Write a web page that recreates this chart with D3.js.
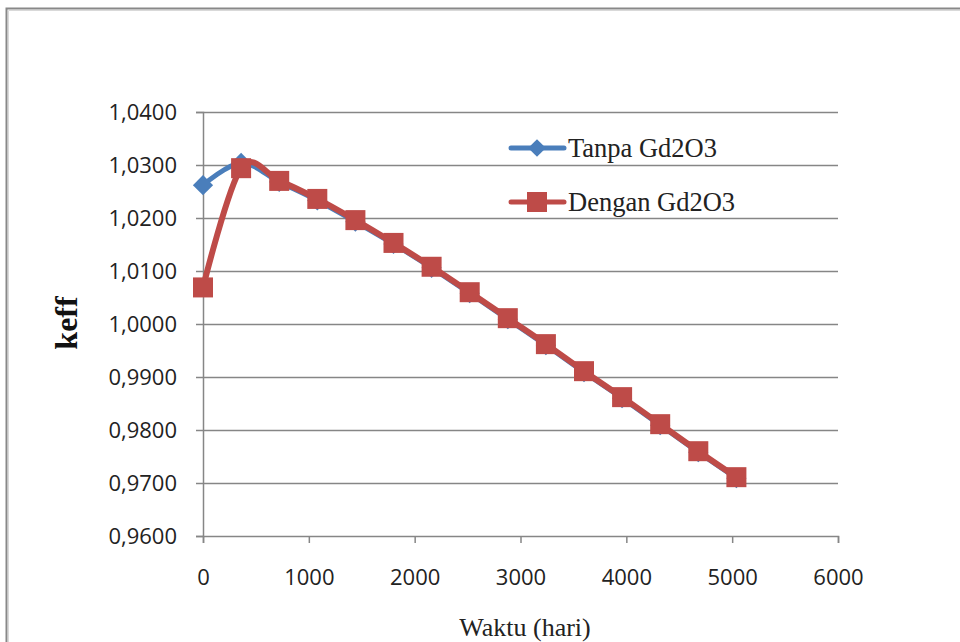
<!DOCTYPE html>
<html><head><meta charset="utf-8">
<script src="https://cdn.jsdelivr.net/npm/d3@7"></script>
<style>body{margin:0;background:#fff}svg{display:block}</style>
</head><body>
<svg id="c" width="960" height="642"></svg>
<script>
const days = [0,360,720,1080,1440,1800,2160,2520,2880,3240,3600,3960,4320,4680,5040];
const tanpa = [1.0262,1.0304,1.0268,1.0233,1.0193,1.0151,1.0106,1.0058,1.0009,0.9960,0.9909,0.9860,0.9809,0.9758,0.9709];
const dengan = [1.0069,1.0294,1.0270,1.0236,1.0196,1.0153,1.0108,1.0060,1.0011,0.9962,0.9911,0.9862,0.9811,0.9760,0.9711];
const xTicks = [0,1000,2000,3000,4000,5000,6000];
const yTicks = [0.96,0.97,0.98,0.99,1.00,1.01,1.02,1.03,1.04];
const seriesNames = ["Tanpa Gd2O3","Dengan Gd2O3"];
const xTitle = "Waktu (hari)", yTitle = "keff";

const svg = d3.select("#c");
svg.append("path").attr("d","M6.5,642 V8.5 H960").attr("fill","none").attr("stroke","#888").attr("stroke-width",2);
svg.append("path").attr("d","M8.5,642 V10.5 H960").attr("fill","none").attr("stroke","#d9d9d9").attr("stroke-width",1);

const x = d3.scaleLinear().domain([0,6000]).range([203,838]);
const y = d3.scaleLinear().domain([0.96,1.04]).range([536,112]);
const fmt = v => d3.format(".4f")(v).replace(".",",");

svg.append("g").selectAll("line").data(yTicks.slice(1)).join("line")
  .attr("x1",x(0)).attr("x2",x(6000)).attr("y1",d=>Math.round(y(d))+0.5).attr("y2",d=>Math.round(y(d))+0.5)
  .attr("stroke","#868686").attr("stroke-width",1.5);

const axFont = "'Open Sans', sans-serif";
const ga = svg.append("g").attr("transform",`translate(${x(0)},0)`)
  .call(d3.axisLeft(y).tickValues(yTicks).tickFormat(fmt).tickSize(7).tickPadding(19));
const gb = svg.append("g").attr("transform",`translate(0,${y(0.96)})`)
  .call(d3.axisBottom(x).tickValues(xTicks).tickFormat(d3.format("d")).tickSize(7).tickPadding(26));
[ga,gb].forEach(g=>{
  g.select(".domain").attr("stroke","#868686").attr("stroke-width",1.5);
  g.selectAll(".tick line").attr("stroke","#868686").attr("stroke-width",1.5);
  g.selectAll("text").attr("font-family",axFont).attr("font-size",22).attr("fill","#222");
});

const line = d3.line().x((d,i)=>x(days[i])).y(d=>y(d)).curve(d3.curveCatmullRom.alpha(0));
const blue = "#4a7ebb", red = "#be4b48";
const diamond = d3.symbolDiamond2 ? d3.symbolDiamond2 : d3.symbolDiamond;
svg.append("path").datum(tanpa).attr("d",line).attr("fill","none").attr("stroke",blue).attr("stroke-width",5).attr("stroke-linejoin","round");
svg.append("g").selectAll("path").data(tanpa).join("path")
  .attr("transform",(d,i)=>`translate(${x(days[i])},${y(d)})`)
  .attr("d",d3.symbol(diamond, 260)).attr("fill",blue);
svg.append("path").datum(dengan).attr("d",line).attr("fill","none").attr("stroke",red).attr("stroke-width",6).attr("stroke-linejoin","round");
svg.append("g").selectAll("rect").data(dengan).join("rect")
  .attr("x",(d,i)=>x(days[i])-10).attr("y",d=>y(d)-10).attr("width",20).attr("height",20).attr("fill",red);

const serif = "'Liberation Serif','Times New Roman',serif";
const lg = svg.append("g");
[[blue,seriesNames[0],148,"d"],[red,seriesNames[1],202,"s"]].forEach(([c,t,ly,m])=>{
  lg.append("line").attr("x1",511).attr("x2",564).attr("y1",ly).attr("y2",ly).attr("stroke",c).attr("stroke-width",5).attr("stroke-linecap","round");
  if(m==="d") lg.append("path").attr("transform",`translate(537,${ly})`).attr("d",d3.symbol(diamond,200)).attr("fill",c);
  else lg.append("rect").attr("x",527).attr("y",ly-10).attr("width",20).attr("height",20).attr("fill",c);
  lg.append("text").attr("x",568).attr("y",ly+9).attr("font-family",serif).attr("font-size",26.5).attr("fill","#222").text(t);
});

svg.append("text").attr("x",525).attr("y",636).attr("text-anchor","middle").attr("font-family",serif).attr("font-size",26).attr("fill","#222").text(xTitle);
svg.append("text").attr("transform","translate(77,323) rotate(-90)").attr("text-anchor","middle").attr("font-family",serif).attr("font-weight","bold").attr("font-size",32).attr("fill","#111").text(yTitle);
</script>
</body></html>
